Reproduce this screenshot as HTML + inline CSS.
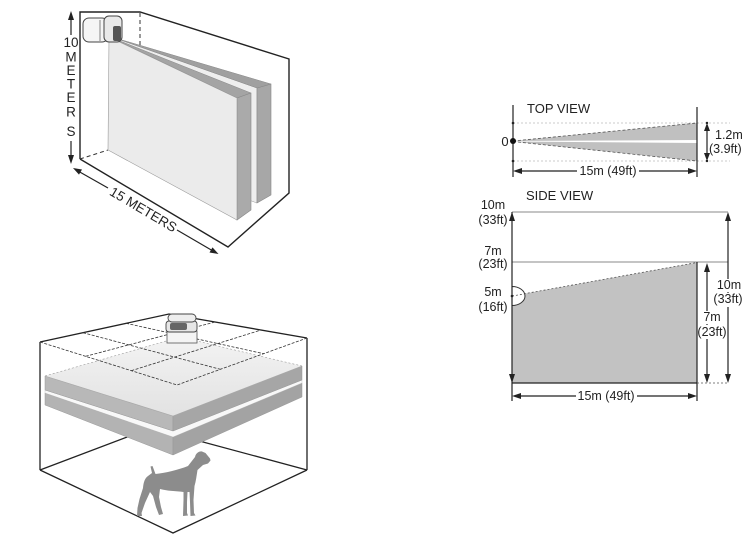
<!DOCTYPE html>
<html><head><meta charset="utf-8"><style>
html,body{margin:0;padding:0;background:#fff;}
svg{display:block;}
text{font-family:"Liberation Sans",Arial,sans-serif;fill:#222;}
</style></head><body>
<svg width="750" height="535" viewBox="0 0 750 535" xmlns="http://www.w3.org/2000/svg">
<defs>
<linearGradient id="tg" x1="0" y1="1" x2="0" y2="0">
<stop offset="0" stop-color="#e2e2e2"/><stop offset="1" stop-color="#f3f3f3"/>
</linearGradient>
</defs>

<!-- ============ TOP-LEFT ROOM ============ -->
<g stroke="#222" stroke-width="1.4" fill="none">
<polyline points="80,159 80,12 140,12 289,59 289,193 228,247 80,159"/>
</g>
<g stroke="#333" stroke-width="1" fill="none" stroke-dasharray="4,3">
<line x1="140" y1="13" x2="140" y2="46"/>
<line x1="80" y1="159" x2="108" y2="150"/>
</g>
<!-- back panel -->
<polygon points="112,37 257,88 257,203 112,150" fill="#eeeeee" stroke="#999" stroke-width="0.5"/>
<polygon points="257,88 271,84 271,195 257,203" fill="#a7a7a7" stroke="#888" stroke-width="0.6"/>
<polygon points="112,37 271,84 257,88" fill="#a0a0a0" stroke="#888" stroke-width="0.5"/>
<!-- front panel -->
<polygon points="110,37 251,93 237,98" fill="#a4a4a4" stroke="#888" stroke-width="0.5"/>
<polygon points="237,98 251,93 251,210 237,220" fill="#aaaaaa" stroke="#888" stroke-width="0.6"/>
<polygon points="109,37 237,98 237,220 108,150" fill="#ebebeb" stroke="#999" stroke-width="0.6"/>
<!-- sensor -->
<rect x="83" y="18" width="25" height="24" rx="6" fill="#f5f5f5" stroke="#444" stroke-width="1"/>
<rect x="104" y="16" width="18" height="26" rx="5" fill="#e9e9e9" stroke="#444" stroke-width="1"/>
<rect x="113" y="26" width="8" height="15" rx="2" fill="#555"/>
<line x1="100" y1="20" x2="100" y2="41" stroke="#666" stroke-width="0.8"/>
<!-- vertical arrow -->
<g stroke="#222" stroke-width="1.2">
<line x1="71" y1="18" x2="71" y2="35"/>
<line x1="71" y1="141" x2="71" y2="157"/>
</g>
<polygon points="71,11 68,20 74,20" fill="#222"/>
<polygon points="71,164 68,155 74,155" fill="#222"/>
<g font-size="13.5" text-anchor="middle">
<text x="71" y="47">10</text>
<text x="71" y="61.5">M</text>
<text x="71" y="75">E</text>
<text x="71" y="88.5">T</text>
<text x="71" y="102">E</text>
<text x="71" y="116.5">R</text>
<text x="71" y="136">S</text>
</g>
<!-- diagonal arrow -->
<g stroke="#222" stroke-width="1.2">
<line x1="78" y1="171" x2="108" y2="188"/>
<line x1="177" y1="230" x2="213" y2="251"/>
</g>
<polygon points="73,168 82,169.5 79,174.6" fill="#222"/>
<polygon points="218.5,254 209.5,252.5 212.5,247.4" fill="#222"/>
<text x="143" y="214" font-size="13.5" text-anchor="middle" transform="rotate(30.6 143 210)">15 METERS</text>

<!-- ============ BOTTOM-LEFT ROOM ============ -->
<g stroke="#222" stroke-width="1.3" fill="none">
<line x1="40" y1="470" x2="151" y2="428"/>
<line x1="307" y1="470" x2="151" y2="428"/>
<line x1="40" y1="342" x2="40" y2="470"/>
<line x1="307" y1="338" x2="307" y2="470"/>
<polyline points="40,342 169,314 307,338"/>
<polyline points="40,470 173,533 307,470"/>
</g>
<!-- slab 2 -->
<polygon points="45,393 173,437 173,455 45,405" fill="#b3b3b3" stroke="#999" stroke-width="0.5"/>
<polygon points="173,437 302,383 302,397 173,455" fill="#a3a3a3" stroke="#999" stroke-width="0.5"/>
<polygon points="45,390 173,431 302,380 302,383 173,437 45,393" fill="#f8f8f8" stroke="#bbb" stroke-width="0.4"/>
<!-- slab 1 -->
<polygon points="45,376 173,416 173,431 45,390" fill="#b8b8b8" stroke="#999" stroke-width="0.5"/>
<polygon points="173,416 302,366 302,380 173,431" fill="#a6a6a6" stroke="#999" stroke-width="0.5"/>
<polygon points="45,376 180,337 302,366 173,416" fill="url(#tg)" stroke="none"/>
<polyline points="45,376 173,416 302,366" fill="none" stroke="#aaa" stroke-width="0.6"/>
<g stroke="#999" stroke-width="0.6" stroke-dasharray="2,2" fill="none">
<polyline points="45,376 180,337 302,366"/>
</g>
<!-- ceiling grid -->
<g stroke="#333" stroke-width="0.8" stroke-dasharray="3,1.5" fill="none">
<polyline points="40,342 177,385 307,338"/>
<line x1="83" y1="332.7" x2="220.3" y2="369.3"/>
<line x1="126" y1="323.3" x2="263.7" y2="353.7"/>
<line x1="85.7" y1="356.3" x2="215" y2="322"/>
<line x1="131.3" y1="370.7" x2="261" y2="330"/>
</g>
<!-- ceiling sensor -->
<rect x="167" y="331" width="30" height="12" fill="#f4f4f4" stroke="#555" stroke-width="0.8"/>
<rect x="166" y="321" width="31" height="11" rx="3" fill="#e6e6e6" stroke="#444" stroke-width="0.9"/>
<rect x="170" y="323" width="17" height="7" rx="2" fill="#666"/>
<rect x="168" y="314" width="28" height="8" rx="4" fill="#eee" stroke="#444" stroke-width="0.9"/>
<!-- dog -->
<path d="M150.5,466.5 L152.5,466 L155.5,474 C165,473 178,470 188,466 L195,457 C196,453 199,451 202,451.5 L205.5,453 L210,458.5 L210.5,460.5 L208,463.5 L203,465 L197.5,470 C196.5,476 196,481 194.5,486 L193.5,500 L194,513 L195.5,515.5 L190.5,516 L190,502 L189.5,492 L187.5,492 L187,502 L187,513 L188,515.5 L183,516 L183.5,500 L183.5,492 C176,491 167,491 160,489 L159,497 L161,507 L163,514 L159,515 L156,507 L153,496 L150,492 L145,503 L141.5,513 L142,516 L137,516 L137.5,508 L139.5,499 L143,488 C143.5,482 145,478 148,476 L152,473 Z" fill="#8c8c8c"/>

<!-- ============ TOP VIEW ============ -->
<text x="527" y="113" font-size="13">TOP VIEW</text>
<g stroke="#bbb" stroke-width="0.8" stroke-dasharray="2,2">
<line x1="513" y1="123" x2="730" y2="123"/>
<line x1="513" y1="161" x2="730" y2="161"/>
</g>
<polygon points="513,141 697,123 697,140" fill="#c0c0c0"/>
<polygon points="513,141.5 697,143 697,161" fill="#c0c0c0"/>
<g stroke="#555" stroke-width="0.8" stroke-dasharray="3,2">
<line x1="513" y1="141" x2="697" y2="123"/>
<line x1="513" y1="141.5" x2="697" y2="161"/>
</g>
<g stroke="#222" stroke-width="1.2">
<line x1="513" y1="105" x2="513" y2="177"/>
<line x1="697" y1="107" x2="697" y2="177"/>
<line x1="707" y1="128" x2="707" y2="156"/>
<line x1="520" y1="171" x2="690" y2="171"/>
</g>
<circle cx="513" cy="141" r="3" fill="#111"/>
<circle cx="513" cy="123" r="1.3" fill="#222"/>
<circle cx="513" cy="161" r="1.3" fill="#222"/>
<circle cx="707" cy="123" r="1.2" fill="#222"/>
<circle cx="707" cy="161" r="1.2" fill="#222"/>
<polygon points="707,123 704,131 710,131" fill="#222"/>
<polygon points="707,161 704,153 710,153" fill="#222"/>
<polygon points="513,171 522,168 522,174" fill="#222"/>
<polygon points="697,171 688,168 688,174" fill="#222"/>
<text x="505" y="146" font-size="13" text-anchor="middle">0</text>
<text x="715" y="139" font-size="12.5">1.2m</text>
<text x="709" y="153" font-size="12.5">(3.9ft)</text>
<rect x="577" y="164" width="62" height="13" fill="#fff"/>
<text x="608" y="175" font-size="12.5" text-anchor="middle">15m (49ft)</text>

<!-- ============ SIDE VIEW ============ -->
<text x="526" y="200" font-size="13">SIDE VIEW</text>
<polygon points="512,296 697,262.5 697,383 512,383" fill="#c2c2c2"/>
<g stroke="#888" stroke-width="1">
<line x1="512" y1="212" x2="728" y2="212"/>
<line x1="512" y1="262" x2="728" y2="262"/>
</g>
<line x1="512" y1="296" x2="697" y2="262.5" stroke="#555" stroke-width="0.8" stroke-dasharray="2,2"/>
<path d="M512,286.5 A13,9.5 0 0 1 512,305.5 Z" fill="#fff" stroke="#333" stroke-width="1"/>
<line x1="512" y1="296" x2="524" y2="294" stroke="#555" stroke-width="0.8" stroke-dasharray="2,2"/>
<circle cx="512" cy="296" r="1.3" fill="#222"/>
<g stroke="#222" stroke-width="1.2">
<line x1="512" y1="212" x2="512" y2="401"/>
<line x1="697" y1="262" x2="697" y2="401"/>
<line x1="512" y1="383" x2="697" y2="383"/>
<line x1="728" y1="218" x2="728" y2="377"/>
<line x1="707" y1="269" x2="707" y2="377"/>
<line x1="519" y1="396" x2="690" y2="396"/>
</g>
<line x1="697" y1="383" x2="728" y2="383" stroke="#555" stroke-width="0.8" stroke-dasharray="2,2"/>
<polygon points="512,212 509,221 515,221" fill="#222"/>
<polygon points="512,383 509,374 515,374" fill="#222"/>
<polygon points="728,212 725,221 731,221" fill="#222"/>
<polygon points="728,383 725,374 731,374" fill="#222"/>
<polygon points="707,263 704,272 710,272" fill="#222"/>
<polygon points="707,383 704,374 710,374" fill="#222"/>
<polygon points="512,396 521,393 521,399" fill="#222"/>
<polygon points="697,396 688,393 688,399" fill="#222"/>
<!-- label backgrounds -->
<g fill="#fff">
<rect x="716" y="279" width="26" height="13"/>
<rect x="712" y="293" width="32" height="14"/>
<rect x="703" y="311" width="18" height="13"/>
<rect x="699" y="325" width="27" height="14"/>
<rect x="576" y="389" width="61" height="13"/>
</g>
<g font-size="12.5" text-anchor="middle">
<text x="493" y="209">10m</text>
<text x="493" y="224">(33ft)</text>
<text x="493" y="255">7m</text>
<text x="493" y="268">(23ft)</text>
<text x="493" y="296">5m</text>
<text x="493" y="311">(16ft)</text>
<text x="729" y="289">10m</text>
<text x="728" y="303">(33ft)</text>
<text x="712" y="321">7m</text>
<text x="712" y="336">(23ft)</text>
<text x="606" y="400">15m (49ft)</text>
</g>
</svg>
</body></html>
